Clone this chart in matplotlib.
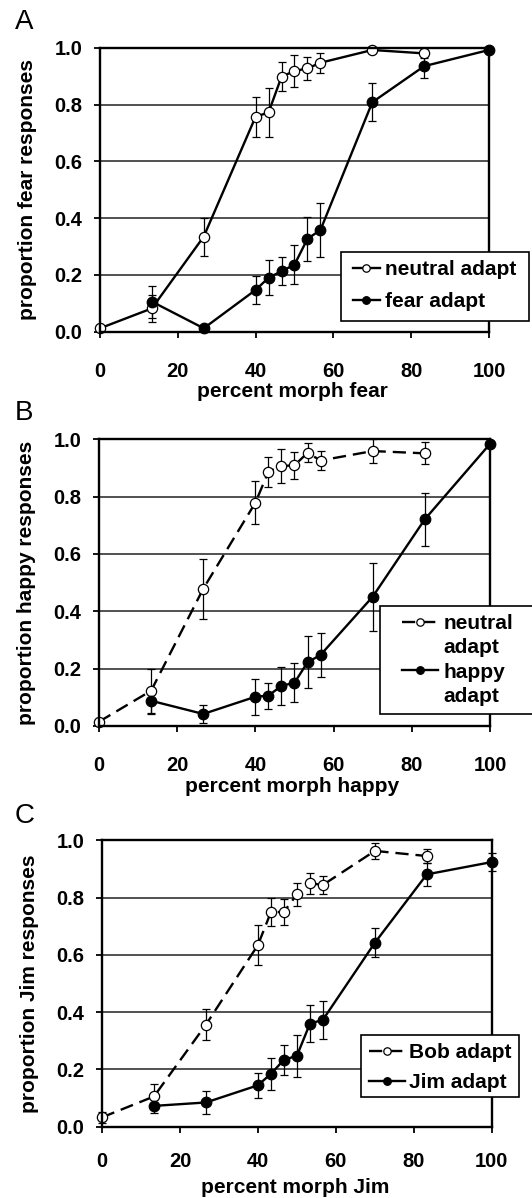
import matplotlib
matplotlib.use("Agg")
import matplotlib.pyplot as plt
from matplotlib.lines import Line2D
from matplotlib.patches import Rectangle

plt.rcParams['font.family'] = ['Liberation Sans', 'DejaVu Sans']
plt.rcParams['font.weight'] = 'bold'
plt.rcParams['lines.scale_dashes'] = False

# ---------------- data ----------------
x_open = [0, 13.33, 26.67, 40, 43.33, 46.67, 50, 53.33, 56.67, 70, 83.33]
x_fill = [13.33, 26.67, 40, 43.33, 46.67, 50, 53.33, 56.67, 70, 83.33, 100]

yA_neutral = [0.012, 0.082, 0.335, 0.757, 0.772, 0.898, 0.918, 0.927, 0.947, 0.992, 0.980]
eA_neutral = [0.0, 0.047, 0.067, 0.070, 0.085, 0.050, 0.055, 0.040, 0.035, 0.0, 0.018]
yA_fear = [0.106, 0.012, 0.147, 0.190, 0.213, 0.236, 0.327, 0.358, 0.808, 0.935, 0.992]
eA_fear = [0.056, 0.0, 0.050, 0.062, 0.050, 0.068, 0.078, 0.095, 0.066, 0.040, 0.0]

yB_neutral = [0.015, 0.123, 0.479, 0.779, 0.887, 0.907, 0.909, 0.953, 0.926, 0.959, 0.951]
eB_neutral = [0.0, 0.077, 0.105, 0.074, 0.052, 0.058, 0.047, 0.033, 0.032, 0.041, 0.038]
yB_happy = [0.088, 0.042, 0.102, 0.106, 0.140, 0.151, 0.222, 0.248, 0.451, 0.721, 0.984]
eB_happy = [0.045, 0.032, 0.062, 0.045, 0.066, 0.069, 0.091, 0.078, 0.119, 0.092, 0.0]

yC_bob = [0.032, 0.105, 0.356, 0.634, 0.749, 0.750, 0.811, 0.850, 0.844, 0.963, 0.945]
eC_bob = [0.020, 0.042, 0.055, 0.071, 0.048, 0.046, 0.041, 0.037, 0.032, 0.028, 0.025]
yC_jim = [0.072, 0.084, 0.144, 0.184, 0.233, 0.247, 0.359, 0.373, 0.642, 0.881, 0.924]
eC_jim = [0.025, 0.041, 0.043, 0.055, 0.052, 0.073, 0.065, 0.067, 0.050, 0.040, 0.030]

x_ticks = [0, 20, 40, 60, 80, 100]
y_ticks = [0.0, 0.2, 0.4, 0.6, 0.8, 1.0]
y_ticklabels = ['0.0', '0.2', '0.4', '0.6', '0.8', '1.0']

panels = [
    dict(letter='A', xlabel='percent morph fear', ylabel='proportion fear responses',
         yo=yA_neutral, eo=eA_neutral, yf=yA_fear, ef=eA_fear,
         labels=['neutral adapt', 'fear adapt'], dashed=False,
         pos=[0.18797, 0.72312, 0.73120, 0.23706], lety=0.9819, xly=-0.212, xpad=17,
         leg=dict(hx=0.651, cy=0.1627, hl=1.27, htp=0.27, ls=0.64),
         frame=(0.620, 0.037, 1.103, 0.282)),
    dict(letter='B', xlabel='percent morph happy', ylabel='proportion happy responses',
         yo=yB_neutral, eo=eB_neutral, yf=yB_happy, ef=eB_happy,
         labels=['neutral', 'adapt', 'happy', 'adapt'], dashed=True,
         pos=[0.18609, 0.39399, 0.73496, 0.23932], lety=0.655, xly=-0.212, xpad=17,
         leg=dict(hx=0.774, cy=0.2302, hl=1.73, htp=0.27, ls=0.26),
         frame=(0.719, 0.042, 1.15, 0.4196)),
    dict(letter='C', xlabel='percent morph Jim', ylabel='proportion Jim responses',
         yo=yC_bob, eo=eC_bob, yf=yC_jim, ef=eC_jim,
         labels=['Bob adapt', 'Jim adapt'], dashed=True,
         pos=[0.19173, 0.05968, 0.73271, 0.23890], lety=0.3185, xly=-0.2114, xpad=14,
         leg=dict(hx=0.6856, cy=0.2055, hl=1.73, htp=0.2, ls=0.53),
         frame=(0.6655, 0.1027, 1.070, 0.321)),
]

fig = plt.figure(figsize=(5.32, 11.98), dpi=100)

for p in panels:
    ax = fig.add_axes(p['pos'])
    ax.set_xlim(0, 100)
    ax.set_ylim(0, 1)
    for yy in y_ticks[1:-1]:
        ax.axhline(yy, color='#222222', lw=1.1, zorder=1)
    for s in ax.spines.values():
        s.set_linewidth(1.7)
        s.set_color('black')
        s.set_zorder(4)
    ax.set_xticks(x_ticks)
    ax.set_xticklabels([str(v) for v in x_ticks])
    ax.set_yticks(y_ticks)
    ax.set_yticklabels(y_ticklabels)
    ax.tick_params(axis='x', direction='out', length=4.5, width=1.3, pad=p['xpad'],
                   labelsize=14.5, colors='black')
    ax.tick_params(axis='y', direction='out', length=4.0, width=1.3, pad=8.6,
                   labelsize=14.5, colors='black')
    for t in ax.get_xticklabels() + ax.get_yticklabels():
        t.set_fontweight('bold')

    ls_open = (0, (9.5, 5.0)) if p['dashed'] else '-'
    ax.errorbar(x_open, p['yo'], yerr=p['eo'], fmt='none', ecolor='black',
                elinewidth=0.9, capsize=3.0, capthick=0.9, zorder=2.5, clip_on=False)
    ax.errorbar(x_fill, p['yf'], yerr=p['ef'], fmt='none', ecolor='black',
                elinewidth=0.9, capsize=3.0, capthick=0.9, zorder=2.6, clip_on=False)
    l_open, = ax.plot(x_open, p['yo'], color='black', lw=1.7, linestyle=ls_open,
                      marker='o', markersize=7.4, markerfacecolor='white',
                      markeredgecolor='black', markeredgewidth=0.9,
                      zorder=3, clip_on=False)
    l_fill, = ax.plot(x_fill, p['yf'], color='black', lw=1.7, linestyle='-',
                      marker='o', markersize=7.6, markerfacecolor='black',
                      markeredgecolor='black', markeredgewidth=0.9,
                      zorder=3.2, clip_on=False)

    # legend frame
    fx0, fy0, fx1, fy1 = p['frame']
    rect = Rectangle((fx0, fy0), fx1 - fx0, fy1 - fy0, transform=ax.transAxes,
                     facecolor='white', edgecolor='black', lw=1.2,
                     zorder=10, clip_on=False)
    ax.add_patch(rect)
    if len(p['labels']) == 4:
        blank = Line2D([], [], linestyle='none', marker='none')
        handles = [l_open, blank, l_fill, blank]
    else:
        handles = [l_open, l_fill]
    lg = p['leg']
    leg = ax.legend(handles, p['labels'], loc='center left',
                    bbox_to_anchor=(lg['hx'], lg['cy']), bbox_transform=ax.transAxes,
                    frameon=False, borderpad=0, borderaxespad=0,
                    handlelength=lg['hl'], handletextpad=lg['htp'],
                    labelspacing=lg['ls'], markerscale=0.72,
                    prop=dict(family='Liberation Sans', weight='bold', size=15))
    leg.set_zorder(11)

    ax.text(-0.186, 0.5, p['ylabel'], transform=ax.transAxes, rotation=90,
            ha='center', va='center', fontsize=15, fontweight='bold')
    ax.text(0.495, p['xly'], p['xlabel'], transform=ax.transAxes,
            ha='center', va='center', fontsize=15, fontweight='bold')
    fig.text(0.046, p['lety'], p['letter'], ha='center', va='center',
             fontsize=20, fontweight='normal', family='Liberation Sans')

fig.savefig('out.png', dpi=100)
